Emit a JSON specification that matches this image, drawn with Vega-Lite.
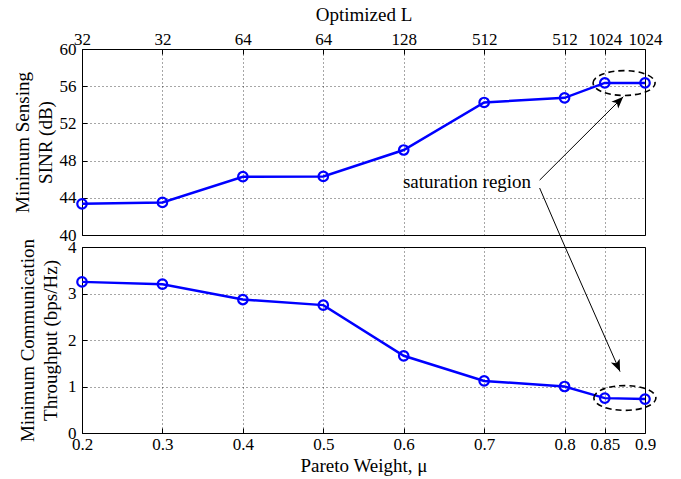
{
  "$schema": "https://vega.github.io/schema/vega-lite/v6.json",
  "padding": {"left": 12, "top": 4, "right": 5, "bottom": 2},
  "spacing": 12,
  "bounds": "flush",
  "config": {
    "font": "Liberation Serif",
    "view": {"stroke": "black", "strokeWidth": 1},
    "axis": {
      "labelFont": "Liberation Serif", "titleFont": "Liberation Serif",
      "labelFontSize": 17, "titleFontSize": 19, "titleFontWeight": "normal", "titleLineHeight": 23,
      "labelColor": "black", "titleColor": "black",
      "gridColor": "black", "gridDash": [1, 3], "gridOpacity": 0.7, "gridWidth": 1,
      "domain": false, "tickColor": "black", "tickSize": -5, "labelPadding": 11,
      "labelOverlap": false, "labelBound": false, "labelFlush": false, "tickCount": 30
    }
  },
  "datasets": {
    "main": [
      {"mu": 0.2, "sinr": 43.35, "thr": 3.25},
      {"mu": 0.3, "sinr": 43.5, "thr": 3.2},
      {"mu": 0.4, "sinr": 46.27, "thr": 2.87},
      {"mu": 0.5, "sinr": 46.3, "thr": 2.75},
      {"mu": 0.6, "sinr": 49.14, "thr": 1.66},
      {"mu": 0.7, "sinr": 54.25, "thr": 1.12},
      {"mu": 0.8, "sinr": 54.75, "thr": 1.0},
      {"mu": 0.85, "sinr": 56.35, "thr": 0.75},
      {"mu": 0.9, "sinr": 56.35, "thr": 0.73}
    ]
  },
  "vconcat": [
    {
      "width": 563, "height": 186,
      "layer": [
        {
          "data": {"name": "main"},
          "mark": {"type": "line", "color": "#0000FF", "strokeWidth": 2.5},
          "encoding": {
            "x": {"field": "mu", "type": "quantitative",
              "scale": {"domain": [0.2, 0.9], "nice": false, "zero": false},
              "axis": {"orient": "top", "values": [0.2, 0.3, 0.4, 0.5, 0.6, 0.7, 0.8, 0.85, 0.9], "tickCount": 30,
                "title": "Optimized L", "titlePadding": 6, "labelPadding": 6,
                "labelExpr": "datum.value < 0.35 ? '32' : datum.value < 0.55 ? '64' : datum.value < 0.65 ? '128' : datum.value < 0.825 ? '512' : '1024'"}},
            "y": {"field": "sinr", "type": "quantitative",
              "scale": {"domain": [40, 60], "nice": false, "zero": false},
              "axis": {"values": [40, 44, 48, 52, 56, 60], "format": "~g", "tickCount": 30, "title": ["Minimum Sensing", "SINR (dB)"], "titlePadding": 4}}
          }
        },
        {
          "data": {"name": "main"},
          "mark": {"type": "point", "shape": "circle", "filled": false, "color": "#0000FF", "strokeWidth": 2.2, "size": 90, "opacity": 1},
          "encoding": {
            "x": {"field": "mu", "type": "quantitative"},
            "y": {"field": "sinr", "type": "quantitative"}
          }
        },
        {
          "data": {"values": [{"mu": 0.874, "v": 56.34}]},
          "mark": {"type": "point", "shape": "M-1,0 A1,0.4 0 1,1 1,0 A1,0.4 0 1,1 -1,0 Z", "filled": false, "color": "black", "strokeWidth": 1.6, "strokeDash": [6, 4], "size": 3844, "opacity": 1, "clip": false},
          "encoding": {
            "x": {"field": "mu", "type": "quantitative"},
            "y": {"field": "v", "type": "quantitative"}
          }
        },
        {
          "data": {"values": [
            {"x1": 0.769, "y1": 45.9, "x2": 0.873, "y2": 54.87},
            {"x1": 0.769, "y1": 45.05, "x2": 0.7974, "y2": 39.35}
          ]},
          "mark": {"type": "rule", "color": "black", "strokeWidth": 1, "clip": false},
          "encoding": {
            "x": {"field": "x1", "type": "quantitative"},
            "y": {"field": "y1", "type": "quantitative"},
            "x2": {"field": "x2"},
            "y2": {"field": "y2"}
          }
        },
        {
          "data": {"values": [{"mu": 0.873, "v": 54.87, "ang": 45}]},
          "mark": {"type": "point", "shape": "M0,0 L0.8,2 L0,1.5 L-0.8,2 Z", "filled": true, "color": "black", "size": 144, "opacity": 1, "clip": false},
          "encoding": {
            "x": {"field": "mu", "type": "quantitative"},
            "y": {"field": "v", "type": "quantitative"},
            "angle": {"field": "ang", "type": "quantitative", "scale": null}
          }
        },
        {
          "data": {"values": [{"mu": 0.599, "v": 45.7, "t": "saturation region"}]},
          "mark": {"type": "text", "align": "left", "baseline": "middle", "fontSize": 19, "font": "Liberation Serif", "color": "black"},
          "encoding": {
            "x": {"field": "mu", "type": "quantitative"},
            "y": {"field": "v", "type": "quantitative"},
            "text": {"field": "t"}
          }
        }
      ]
    },
    {
      "width": 563, "height": 186,
      "layer": [
        {
          "data": {"name": "main"},
          "mark": {"type": "line", "color": "#0000FF", "strokeWidth": 2.5},
          "encoding": {
            "x": {"field": "mu", "type": "quantitative",
              "scale": {"domain": [0.2, 0.9], "nice": false, "zero": false},
              "axis": {"values": [0.2, 0.3, 0.4, 0.5, 0.6, 0.7, 0.8, 0.85, 0.9], "tickCount": 30, "format": "~g",
                "title": "Pareto Weight, μ", "titlePadding": 4, "labelPadding": 8}},
            "y": {"field": "thr", "type": "quantitative",
              "scale": {"domain": [0, 4], "nice": false, "zero": false},
              "axis": {"values": [0, 1, 2, 3, 4], "format": "~g", "tickCount": 30, "title": ["Minimum Communication", "Throughput (bps/Hz)"], "titlePadding": 7.5}}
          }
        },
        {
          "data": {"name": "main"},
          "mark": {"type": "point", "shape": "circle", "filled": false, "color": "#0000FF", "strokeWidth": 2.2, "size": 90, "opacity": 1},
          "encoding": {
            "x": {"field": "mu", "type": "quantitative"},
            "y": {"field": "thr", "type": "quantitative"}
          }
        },
        {
          "data": {"values": [{"mu": 0.875, "v": 0.753}]},
          "mark": {"type": "point", "shape": "M-1,0 A1,0.4 0 1,1 1,0 A1,0.4 0 1,1 -1,0 Z", "filled": false, "color": "black", "strokeWidth": 1.6, "strokeDash": [6, 4], "size": 3844, "opacity": 1, "clip": false},
          "encoding": {
            "x": {"field": "mu", "type": "quantitative"},
            "y": {"field": "v", "type": "quantitative"}
          }
        },
        {
          "data": {"values": [
            {"x1": 0.7974, "y1": 4.129, "x2": 0.869, "y2": 1.32}
          ]},
          "mark": {"type": "rule", "color": "black", "strokeWidth": 1, "clip": false},
          "encoding": {
            "x": {"field": "x1", "type": "quantitative"},
            "y": {"field": "y1", "type": "quantitative"},
            "x2": {"field": "x2"},
            "y2": {"field": "y2"}
          }
        },
        {
          "data": {"values": [{"mu": 0.869, "v": 1.32, "ang": 156.5}]},
          "mark": {"type": "point", "shape": "M0,0 L0.8,2 L0,1.5 L-0.8,2 Z", "filled": true, "color": "black", "size": 144, "opacity": 1, "clip": false},
          "encoding": {
            "x": {"field": "mu", "type": "quantitative"},
            "y": {"field": "v", "type": "quantitative"},
            "angle": {"field": "ang", "type": "quantitative", "scale": null}
          }
        }
      ]
    }
  ]
}
